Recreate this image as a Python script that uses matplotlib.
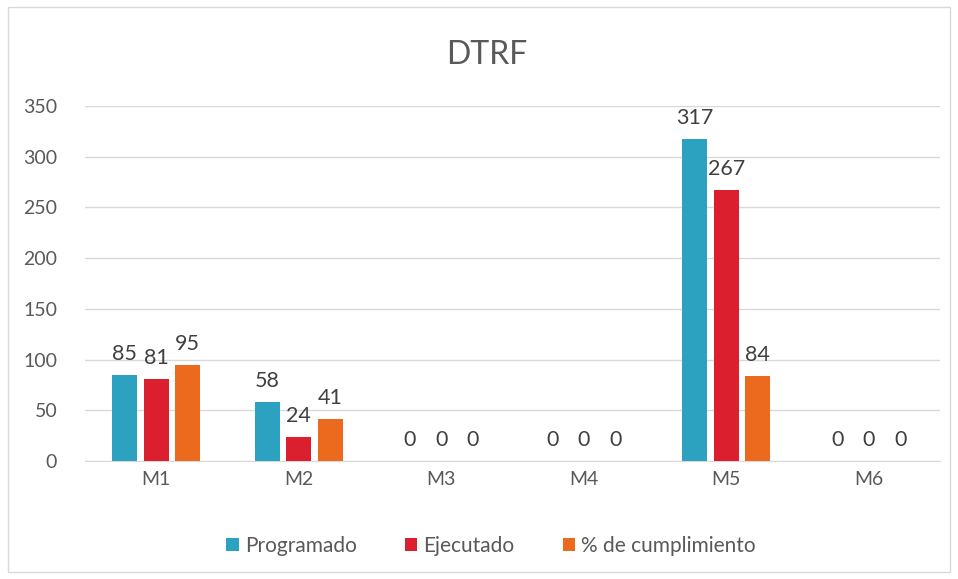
import matplotlib.pyplot as plt
import numpy as np
from matplotlib.patches import Rectangle

categories = ['M1', 'M2', 'M3', 'M4', 'M5', 'M6']
programado = [85, 58, 0, 0, 317, 0]
ejecutado = [81, 24, 0, 0, 267, 0]
cumplimiento = [95, 41, 0, 0, 84, 0]
series_names = ['Programado', 'Ejecutado', '% de cumplimiento']
colors = ['#2CA1C0', '#DC1F2E', '#EC6A1D']
yticks = [0, 50, 100, 150, 200, 250, 300, 350]

plt.rcParams['font.family'] = ['Lato', 'DejaVu Sans']
txt = '#595959'

fig = plt.figure(figsize=(9.58, 5.79), dpi=100)
fig.patches.append(Rectangle((8/958, 1-572/579), 942/958, 565/579, transform=fig.transFigure,
                             fill=False, edgecolor='#D9D9D9', linewidth=1))
ax = fig.add_axes([85/958, 1-461/579, 855/958, 355/579])

x = np.arange(len(categories))
w = 0.175
offs = [-0.22, 0, 0.22]
for vals, off, col, name in zip([programado, ejecutado, cumplimiento], offs, colors, series_names):
    bars = ax.bar(x + off, vals, width=w, color=col, label=name, zorder=3)
    for b, v in zip(bars, vals):
        ax.annotate(str(v), (b.get_x() + b.get_width()/2, v), xytext=(0, 8), textcoords='offset points',
                    ha='center', va='bottom', fontsize=15.5, color='#404040')

ax.set_xlim(-0.5, 5.5)
ax.set_ylim(0, 350)
ax.set_yticks(yticks)
ax.set_xticks(x)
ax.set_xticklabels(categories)
ax.grid(axis='y', color='#D9D9D9', linewidth=1, zorder=0)
for s in ['top', 'right', 'left']:
    ax.spines[s].set_visible(False)
ax.spines['bottom'].set_color('#D9D9D9')
ax.tick_params(axis='both', length=0, labelsize=14, colors=txt)
ax.tick_params(axis='x', pad=7)
ax.tick_params(axis='y', pad=20)

fig.text(487/958, 1-55/579, 'DTRF', ha='center', va='center', fontsize=23, color=txt)
ax.legend(loc='center', bbox_to_anchor=(0.475, -0.24), ncol=3, frameon=False, fontsize=15,
          handlelength=0.6, handleheight=0.6, handletextpad=0.3, columnspacing=2.3, labelcolor=txt)

plt.savefig('out.png', dpi=100)
